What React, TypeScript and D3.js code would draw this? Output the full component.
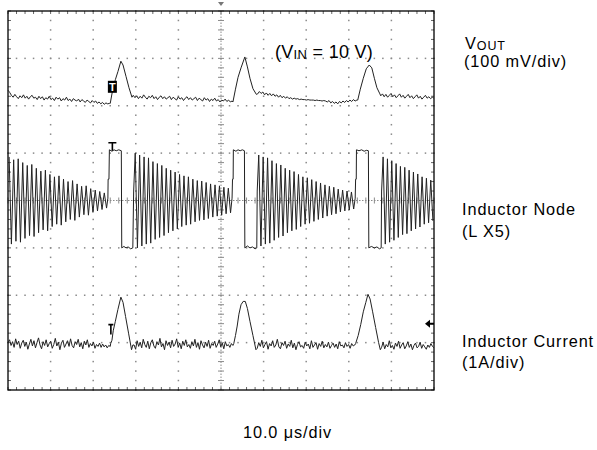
import React from "react";
import * as d3 from "d3";

// graticule: 10 x 8 divisions, 5 minor per division
const xDivs = [0, 10];
const yDivs = [-4, 4];

// V_OUT trace (divisions), baseline noise segments + pulses
const voutSpans = [[0, 2.38], [2.94, 5.26], [5.86, 8.19], [8.75, 10]];
const voutNoiseA = [
  2.33, 2.28, 2.22, 2.18, 2.24, 2.19, 2.15, 2.21, 2.17, 2.23,
  2.16, 2.20, 2.14, 2.19, 2.22, 2.16, 2.18, 2.13, 2.20, 2.15,
  2.19, 2.12, 2.17, 2.14, 2.20, 2.13, 2.16, 2.11, 2.18, 2.14,
  2.17, 2.10, 2.15, 2.12, 2.18, 2.11, 2.14, 2.09, 2.15, 2.12,
  2.10, 2.14, 2.08, 2.13, 2.10, 2.07, 2.12, 2.09, 2.06, 2.11,
  2.07, 2.10, 2.05, 2.08, 2.04, 2.07, 2.03, 2.06, 2.04, 2.05,
];
const voutNoiseB = [
  2.22, 2.17, 2.21, 2.15, 2.20, 2.16, 2.23, 2.18, 2.14, 2.20,
  2.17, 2.22, 2.15, 2.19, 2.13, 2.18, 2.21, 2.15, 2.19, 2.14,
  2.17, 2.20, 2.13, 2.18, 2.15, 2.12, 2.19, 2.14, 2.17, 2.11,
  2.16, 2.19, 2.13, 2.17, 2.12, 2.15, 2.18, 2.11, 2.16, 2.13,
  2.10, 2.17, 2.12, 2.15, 2.09, 2.14, 2.11, 2.16, 2.10, 2.13,
  2.08, 2.12, 2.10, 2.14, 2.09, 2.12, 2.08, 2.10,
];
const voutNoiseC = [
  2.25, 2.30, 2.26, 2.29, 2.23, 2.27, 2.22, 2.26, 2.21, 2.25,
  2.20, 2.23, 2.18, 2.22, 2.17, 2.20, 2.16, 2.19, 2.15, 2.17,
  2.14, 2.16, 2.14, 2.15, 2.13, 2.14, 2.13, 2.13, 2.12, 2.13,
  2.12, 2.12, 2.12, 2.11, 2.12, 2.11, 2.11, 2.10, 2.11, 2.10,
  2.08, 2.11, 2.06, 2.09, 2.05, 2.08, 2.04, 2.09, 2.06, 2.10,
  2.07, 2.11, 2.08, 2.12, 2.09, 2.13, 2.10, 2.12,
];
const voutNoiseD = [
  2.21, 2.25, 2.19, 2.24, 2.18, 2.22, 2.26, 2.19, 2.23, 2.17,
  2.21, 2.25, 2.18, 2.22, 2.16, 2.20, 2.24, 2.17, 2.21, 2.15,
  2.19, 2.23, 2.16, 2.20, 2.14, 2.18, 2.22, 2.16, 2.19, 2.15,
  2.18, 2.16,
];
const voutPeak1 = [[2.40, 2.05], [2.45, 2.30], [2.52, 2.55], [2.58, 2.72], [2.65, 2.94], [2.70, 2.86], [2.77, 2.62], [2.84, 2.38], [2.91, 2.18]];
const voutPeak2 = [[5.28, 2.08], [5.34, 2.35], [5.40, 2.60], [5.47, 2.80], [5.56, 3.03], [5.62, 2.82], [5.68, 2.58], [5.75, 2.36], [5.83, 2.24]];
const voutPeak3 = [[8.21, 2.12], [8.27, 2.35], [8.34, 2.58], [8.41, 2.78], [8.48, 2.86], [8.54, 2.80], [8.60, 2.58], [8.66, 2.38], [8.73, 2.25]];

// Inductor node (L X5): ringing amplitude per cycle + switching pulses
const ringSpans = [[0, 2.34], [2.96, 5.25], [5.86, 8.14], [8.78, 10]];
const ring1 = [0.92, 0.86, 0.88, 0.80, 0.74, 0.76, 0.68, 0.62, 0.64, 0.55, 0.50, 0.52, 0.45, 0.40, 0.42, 0.35, 0.30, 0.31, 0.25, 0.22, 0.19, 0.16];
const ring2 = [1.00, 0.96, 0.92, 0.90, 0.82, 0.78, 0.74, 0.68, 0.64, 0.60, 0.55, 0.52, 0.50, 0.45, 0.42, 0.41, 0.38, 0.35, 0.33, 0.31, 0.28, 0.26];
const ring3 = [0.96, 0.92, 0.90, 0.84, 0.78, 0.75, 0.68, 0.64, 0.61, 0.55, 0.50, 0.48, 0.44, 0.40, 0.37, 0.33, 0.30, 0.28, 0.24, 0.22, 0.20, 0.18];
const ring4 = [0.92, 0.88, 0.84, 0.78, 0.72, 0.70, 0.64, 0.60, 0.56, 0.50, 0.47, 0.43];
const pulse1 = [[2.345, 0.05], [2.35, 0.45], [2.37, 0.45], [2.38, 1.07], [2.44, 1.04], [2.49, 1.07], [2.54, 1.05], [2.60, 1.07], [2.66, 1.05], [2.67, -1.0], [2.72, -0.97], [2.77, -1.0], [2.82, -0.98], [2.88, -1.02], [2.93, -1.0], [2.95, 0.2]];
const pulse2 = [[5.26, 0.05], [5.27, 0.45], [5.285, 0.45], [5.29, 1.07], [5.35, 1.04], [5.40, 1.07], [5.45, 1.05], [5.50, 1.07], [5.55, 1.05], [5.56, -1.0], [5.62, -0.96], [5.68, -1.0], [5.74, -0.98], [5.80, -1.02], [5.84, -1.0], [5.85, 0.2]];
const pulse3 = [[8.15, 0.05], [8.16, 0.45], [8.175, 0.45], [8.18, 1.07], [8.24, 1.05], [8.30, 1.07], [8.36, 1.04], [8.42, 1.06], [8.46, 1.05], [8.47, -1.0], [8.53, -0.97], [8.60, -1.0], [8.66, -0.98], [8.72, -1.02], [8.76, -1.0], [8.77, 0.2]];

// Inductor current (1A/div)
const curSpans = [[0, 2.40], [2.96, 5.28], [5.85, 8.14], [8.77, 10]];
const curNoiseA = [
  -3.00, -2.94, -3.06, -2.98, -3.10, -2.92, -3.04, -2.97, -3.12, -3.01,
  -2.95, -3.08, -2.99, -3.14, -3.03, -2.93, -3.07, -2.96, -3.11, -3.00,
  -2.90, -3.05, -3.13, -2.98, -3.06, -2.94, -3.09, -3.02, -2.97, -3.12,
  -3.04, -2.91, -3.07, -2.99, -3.15, -3.01, -2.95, -3.10, -3.03, -2.96,
  -3.08, -2.92, -3.06, -3.11, -2.98, -3.04, -2.93, -3.09, -3.00, -3.13,
  -2.97, -3.05, -2.94, -3.10, -3.02, -3.07, -2.99, -3.12, -3.04, -3.08,
  -3.01, -3.10, -3.03, -3.09, -3.05, -3.11, -3.06, -3.08,
];
const curNoiseB = [
  -3.05, -3.14, -2.96, -3.08, -2.99, -3.11, -2.93, -3.04, -3.10, -2.97,
  -3.13, -3.00, -2.94, -3.07, -3.12, -2.98, -3.05, -2.91, -3.09, -3.02,
  -3.15, -2.96, -3.06, -2.99, -3.11, -2.95, -3.08, -3.03, -2.92, -3.10,
  -3.01, -3.13, -2.97, -3.06, -2.94, -3.09, -3.04, -3.12, -2.98, -3.07,
  -2.93, -3.10, -3.00, -3.14, -2.96, -3.05, -3.11, -2.99, -3.08, -2.95,
  -3.12, -3.02, -3.06, -2.97, -3.10, -3.03, -2.94, -3.09, -3.01, -3.13,
  -2.98, -3.07, -3.04, -3.10, -3.02, -3.06,
];
const curNoiseC = [
  -3.12, -3.00, -3.08, -2.95, -3.11, -3.04, -2.98, -3.14, -3.02, -3.07,
  -2.96, -3.10, -3.05, -2.93, -3.09, -3.13, -3.00, -3.06, -2.97, -3.12,
  -3.03, -3.08, -2.95, -3.11, -3.01, -3.15, -3.04, -2.98, -3.09, -3.06,
  -3.12, -2.99, -3.07, -3.03, -3.13, -2.96, -3.10, -3.05, -3.00, -3.14,
  -3.02, -3.08, -2.97, -3.11, -3.04, -3.09, -2.99, -3.12, -3.06, -3.01,
  -3.10, -3.03, -3.13, -2.98, -3.07, -3.05, -3.11, -3.00, -3.08, -3.04,
  -3.12, -3.02, -3.07, -3.05,
];
const curNoiseD = [
  -3.10, -2.99, -3.13, -3.04, -3.09, -2.96, -3.11, -3.06, -3.14, -3.01,
  -3.08, -2.97, -3.12, -3.05, -3.00, -3.13, -3.07, -2.98, -3.10, -3.03,
  -3.15, -3.06, -3.01, -3.11, -3.08, -2.99, -3.12, -3.04, -3.09, -3.14,
  -3.05, -3.10, -3.02, -3.08, -3.11,
];
const curPeak1 = [[2.41, -3.02], [2.44, -2.95], [2.47, -2.75], [2.52, -2.55], [2.58, -2.30], [2.65, -2.04], [2.70, -2.15], [2.76, -2.45], [2.83, -2.80], [2.90, -3.15], [2.93, -3.05]];
const curPeak2 = [[5.30, -3.02], [5.34, -2.85], [5.38, -2.65], [5.42, -2.40], [5.47, -2.20], [5.52, -2.13], [5.57, -2.13], [5.62, -2.28], [5.68, -2.55], [5.75, -2.85], [5.82, -3.15]];
const curPeak3 = [[8.16, -3.02], [8.22, -2.85], [8.28, -2.62], [8.34, -2.35], [8.40, -2.15], [8.45, -1.98], [8.50, -2.08], [8.56, -2.35], [8.63, -2.68], [8.70, -3.0], [8.74, -3.15]];

// marker positions (divisions)
const trigT = 2.45;
const voutTrigV = 2.4;
const nodeTrigV = 1.22;
const curTrigV = -2.62;
const groundArrowV = -2.6;

const noiseSeg = (span: number[], vals: number[]) =>
  vals.map((v, i) => [span[0] + (i * (span[1] - span[0])) / (vals.length - 1), v]);

const ringSeg = (span: number[], amps: number[]) => {
  const p = (span[1] - span[0]) / amps.length;
  return amps.flatMap((a, k) => [
    [span[0] + (k + 0.25) * p, a],
    [span[0] + (k + 0.75) * p, -a],
  ]);
};

export default function App() {
  const x = d3.scaleLinear().domain(xDivs).range([8, 434]);
  const y = d3.scaleLinear().domain(yDivs).range([390, 11]);
  const line = d3.line<number[]>().x((d) => x(d[0])).y((d) => y(d[1]));

  const vout = [
    ...noiseSeg(voutSpans[0], voutNoiseA), ...voutPeak1,
    ...noiseSeg(voutSpans[1], voutNoiseB), ...voutPeak2,
    ...noiseSeg(voutSpans[2], voutNoiseC), ...voutPeak3,
    ...noiseSeg(voutSpans[3], voutNoiseD),
  ];
  const node = [
    ...ringSeg(ringSpans[0], ring1), ...pulse1,
    ...ringSeg(ringSpans[1], ring2), ...pulse2,
    ...ringSeg(ringSpans[2], ring3), ...pulse3,
    ...ringSeg(ringSpans[3], ring4),
  ];
  const cur = [
    ...noiseSeg(curSpans[0], curNoiseA), ...curPeak1,
    ...noiseSeg(curSpans[1], curNoiseB), ...curPeak2,
    ...noiseSeg(curSpans[2], curNoiseC), ...curPeak3,
    ...noiseSeg(curSpans[3], curNoiseD),
  ];

  const minorX = d3.range(0, 10.001, 0.2);
  const minorY = d3.range(-4, 4.001, 0.2);
  const majorX = d3.range(1, 10).filter((d) => d !== 5);
  const majorY = d3.range(-3, 4).filter((d) => d !== 0);

  const dots: JSX.Element[] = [];
  majorX.forEach((gx) =>
    minorY.forEach((my, i) =>
      dots.push(<rect key={`vx${gx}-${i}`} x={x(gx) - 0.75} y={y(my) - 0.75} width={1.5} height={1.5} fill="#8a8a8a" />)
    )
  );
  majorY.forEach((gy) =>
    minorX.forEach((mx, i) =>
      dots.push(<rect key={`hy${gy}-${i}`} x={x(mx) - 0.75} y={y(gy) - 0.75} width={1.5} height={1.5} fill="#8a8a8a" />)
    )
  );

  const font = "'Liberation Sans', Arial, Helvetica, sans-serif";
  const tx = x(trigT);

  return (
    <svg width={597} height={450} style={{ position: "absolute", left: 0, top: 0, background: "#fff" }}>
      <rect x={0} y={0} width={597} height={450} fill="#fff" />
      {dots}
      {/* centre lines */}
      <line x1={x(0)} x2={x(10)} y1={y(0)} y2={y(0)} stroke="#8a8a8a" strokeDasharray="1.5,1.5" />
      <line x1={x(5)} x2={x(5)} y1={y(-4)} y2={y(4)} stroke="#8a8a8a" strokeDasharray="1.5,1.5" />
      {minorX.map((mx, i) => (
        <line key={`cx${i}`} x1={x(mx)} x2={x(mx)} y1={y(0) - 3} y2={y(0) + 3} stroke="#8a8a8a" />
      ))}
      {minorY.map((my, i) => (
        <line key={`cy${i}`} x1={x(5) - 3} x2={x(5) + 3} y1={y(my)} y2={y(my)} stroke="#8a8a8a" />
      ))}
      {/* edge ticks */}
      {minorX.map((mx, i) => (
        <g key={`ex${i}`} stroke="#666">
          <line x1={x(mx)} x2={x(mx)} y1={y(4)} y2={y(4) + 3} />
          <line x1={x(mx)} x2={x(mx)} y1={y(-4)} y2={y(-4) - 3} />
        </g>
      ))}
      {minorY.map((my, i) => (
        <g key={`ey${i}`} stroke="#666">
          <line x1={x(0)} x2={x(0) + 3} y1={y(my)} y2={y(my)} />
          <line x1={x(10)} x2={x(10) - 3} y1={y(my)} y2={y(my)} />
        </g>
      ))}
      <rect x={x(0)} y={y(4)} width={x(10) - x(0)} height={y(-4) - y(4)} fill="none" stroke="#000" strokeWidth={1.3} />
      {/* trigger position at top */}
      <path d={`M${x(5) - 3},${y(4) - 9} L${x(5) + 3},${y(4) - 9} L${x(5)},${y(4) - 5} Z`} fill="#777" />

      {/* traces */}
      <g fill="none" stroke="#222" strokeWidth={1} strokeLinejoin="round">
        <path d={line(vout) ?? ""} />
        <path d={line(node) ?? ""} />
        <path d={line(cur) ?? ""} />
      </g>

      {/* trigger markers */}
      <rect x={tx - 4.5} y={y(voutTrigV) - 6} width={9} height={12} fill="#000" />
      <text x={tx} y={y(voutTrigV) + 4.5} fill="#fff" fontSize={11} fontWeight="bold" fontFamily={font} textAnchor="middle">T</text>
      <path d={`M${tx - 4},${y(nodeTrigV)} H${tx + 4} M${tx},${y(nodeTrigV)} V${y(nodeTrigV) + 8}`} stroke="#000" strokeWidth={1.6} fill="none" />
      <path d={`M${tx - 4},${y(curTrigV)} H${tx + 1} M${tx - 1.5},${y(curTrigV)} V${y(curTrigV) + 10}`} stroke="#000" strokeWidth={1.6} fill="none" />
      <path d={`M${x(10) - 9},${y(groundArrowV)} L${x(10) - 4},${y(groundArrowV) - 4} L${x(10) - 4},${y(groundArrowV) + 4} Z M${x(10) - 4},${y(groundArrowV) - 1} H${x(10)} V${y(groundArrowV) + 1} H${x(10) - 4} Z`} fill="#000" />

      {/* annotation */}
      <text x={275} y={57.5} fontFamily={font} fontSize={18} letterSpacing={0.3} fill="#000">
        (V<tspan fontSize={13} dy={1.5}>IN</tspan><tspan dy={-1.5}> = 10 V)</tspan>
      </text>

      {/* channel labels */}
      <g fontFamily={font} fontSize={16.3} letterSpacing={0.9} fill="#000">
        <text x={465} y={48.5}>V<tspan fontSize={12.5} dy={1}>OUT</tspan></text>
        <text x={464} y={66.5}>(100 mV/div)</text>
        <text x={462} y={215}>Inductor Node</text>
        <text x={462} y={236.7}>(L X5)</text>
        <text x={462} y={346.7}>Inductor Current</text>
        <text x={462} y={368.3}>(1A/div)</text>
        <text x={243} y={438.3}>10.0 μs/div</text>
      </g>
    </svg>
  );
}
